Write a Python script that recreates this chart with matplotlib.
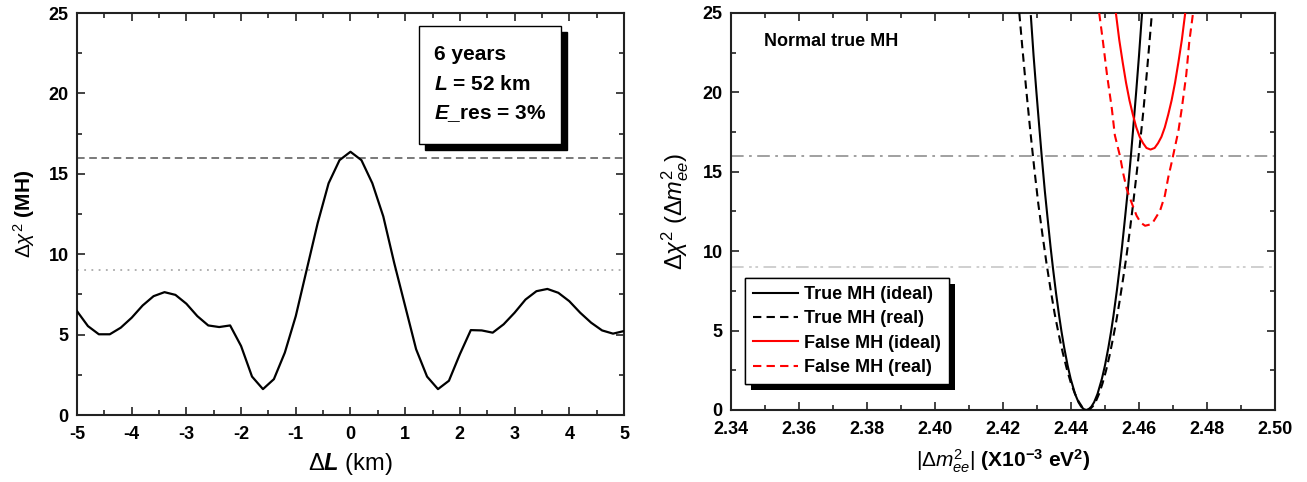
import matplotlib
matplotlib.use('Agg')
import matplotlib.pyplot as plt
from matplotlib.patches import Rectangle
from matplotlib.ticker import MultipleLocator, FormatStrFormatter
import matplotlib.patheffects as pe

plt.rcParams['font.family'] = ['Liberation Sans', 'DejaVu Sans']
plt.rcParams['mathtext.fontset'] = 'custom'
plt.rcParams['mathtext.rm'] = 'Liberation Sans'
plt.rcParams['mathtext.it'] = 'Liberation Sans:italic'
plt.rcParams['mathtext.bf'] = 'Liberation Sans:bold'
plt.rcParams['mathtext.bfit'] = 'Liberation Sans:bold:italic'
plt.rcParams['axes.unicode_minus'] = False

# left panel: chi2 vs baseline difference
dL = [-5.0, -4.8, -4.6, -4.4, -4.2, -4.0, -3.8, -3.6, -3.4, -3.2, -3.0, -2.8, -2.6,
      -2.4, -2.2, -2.0, -1.8, -1.6, -1.4, -1.2, -1.0, -0.8, -0.6, -0.4, -0.2, 0.0,
      0.2, 0.4, 0.6, 0.8, 1.0, 1.2, 1.4, 1.6, 1.8, 2.0, 2.2, 2.4, 2.6, 2.8, 3.0,
      3.2, 3.4, 3.6, 3.8, 4.0, 4.2, 4.4, 4.6, 4.8, 5.0]
chi2_mh = [6.46, 5.53, 5.02, 5.02, 5.43, 6.05, 6.81, 7.39, 7.64, 7.47, 6.92, 6.15, 5.57,
           5.47, 5.57, 4.29, 2.39, 1.61, 2.23, 3.88, 6.15, 9.04, 11.93, 14.41, 15.85, 16.37,
           15.85, 14.41, 12.35, 9.45, 6.77, 4.09, 2.39, 1.61, 2.13, 3.78, 5.28, 5.26, 5.12,
           5.64, 6.36, 7.18, 7.70, 7.84, 7.60, 7.08, 6.36, 5.74, 5.26, 5.06, 5.22]

# right panel: chi2 vs |dm2_ee|
true_ideal_x = [2.4282, 2.4290, 2.4298, 2.4306, 2.4314, 2.4323, 2.4332, 2.4340, 2.4347,
                2.4356, 2.4365, 2.4372, 2.4380, 2.4390, 2.4399, 2.4412, 2.4422, 2.4430,
                2.4438, 2.4445, 2.4452, 2.4460, 2.4468, 2.4478, 2.4491, 2.4500, 2.4510,
                2.4518, 2.4525, 2.4535, 2.4543, 2.4550, 2.4558, 2.4567, 2.4576, 2.4584,
                2.4592, 2.4600, 2.4609]
true_ideal_y = [24.8, 22.3, 20.1, 18.0, 15.95, 13.8, 11.9, 10.25, 8.93,
                7.36, 5.95, 4.95, 3.93, 2.81, 1.97, 1.01, 0.49, 0.21,
                0.05, 0.0, 0.05, 0.21, 0.49, 1.01, 1.97, 2.81, 3.93,
                4.95, 5.95, 7.53, 8.93, 10.25, 11.9, 13.8, 15.95, 18.0,
                20.1, 22.3, 25.0]

true_real_x = [2.4248, 2.4256, 2.4268, 2.4280, 2.4292, 2.4304, 2.4316, 2.4328, 2.4340,
               2.4352, 2.4364, 2.4376, 2.4388, 2.4400, 2.4411, 2.4422, 2.4432, 2.4440,
               2.4448, 2.4456, 2.4464, 2.4473, 2.4483, 2.4493, 2.4503, 2.4513, 2.4523,
               2.4533, 2.4543, 2.4553, 2.4563, 2.4573, 2.4583, 2.4593, 2.4603, 2.4613,
               2.4623, 2.4633, 2.4640]
true_real_y = [25.0, 23.04, 20.25, 17.64, 15.21, 12.96, 11.05, 9.23, 7.59,
               6.06, 4.76, 3.59, 2.56, 1.68, 1.06, 0.55, 0.22, 0.06,
               0.0, 0.06, 0.23, 0.54, 1.04, 1.69, 2.47, 3.39, 4.44,
               5.57, 6.85, 8.23, 9.66, 11.29, 13.03, 14.87, 16.8, 18.85,
               21.2, 23.7, 25.5]

false_ideal_x = [2.4532, 2.4542, 2.4552, 2.4562, 2.4572, 2.4582, 2.4592, 2.4602, 2.4612,
                 2.4622, 2.4634, 2.4646, 2.4656, 2.4666, 2.4676, 2.4686, 2.4696, 2.4706,
                 2.4716, 2.4726, 2.4736]
false_ideal_y = [25.0, 23.3, 21.9, 20.6, 19.5, 18.6, 17.8, 17.2, 16.8,
                 16.5, 16.4, 16.5, 16.8, 17.2, 17.8, 18.6, 19.5, 20.6,
                 21.9, 23.3, 25.0]

false_real_x = [2.4483, 2.4494, 2.4506, 2.4520, 2.4529, 2.4544, 2.4554, 2.4564, 2.4578,
                2.4593, 2.4605, 2.4618, 2.4638, 2.4662, 2.4676, 2.4686, 2.4696, 2.4716,
                2.4726, 2.4739, 2.4748, 2.4759]
false_real_y = [25.0, 23.2, 21.1, 19.0, 17.3, 16.0, 14.86, 13.91, 13.07,
                12.23, 11.8, 11.6, 11.71, 12.55, 13.49, 14.64, 15.58, 17.58,
                19.0, 21.1, 23.2, 25.0]

fig = plt.figure(figsize=(13.07, 4.82), dpi=100)
ax1 = fig.add_axes([0.0589, 0.139, 0.4185, 0.834])
ax2 = fig.add_axes([0.5593, 0.1494, 0.4162, 0.8237])

def style(ax):
    for s in ax.spines.values():
        s.set_linewidth(1.5)
        s.set_color('#222222')
    ax.tick_params(which='both', direction='in', top=True, right=True,
                   width=1.2, color='#222222', labelsize=13)
    ax.tick_params(which='major', length=6)
    ax.tick_params(which='minor', length=3.5)
    ax.tick_params(axis='x', which='major', pad=8)
    ax.tick_params(axis='y', which='major', pad=6)
    for lab in ax.get_xticklabels() + ax.get_yticklabels():
        lab.set_fontweight('bold')

# left
ax1.axhline(16, color='#555555', lw=1.1, linestyle=(0, (5, 3)), zorder=1)
ax1.axhline(9, color='#aaaaaa', lw=1.3, linestyle=(0, (1, 3)), zorder=1)
ax1.plot(dL, chi2_mh, color='black', lw=1.6, zorder=3)
ax1.set_xlim(-5, 5)
ax1.set_ylim(0, 25)
ax1.xaxis.set_major_locator(MultipleLocator(1))
ax1.xaxis.set_minor_locator(MultipleLocator(0.5))
ax1.yaxis.set_major_locator(MultipleLocator(5))
ax1.yaxis.set_minor_locator(MultipleLocator(2.5))
style(ax1)
ax1.set_xlabel(r'$\Delta\mathbfit{L}$ (km)', fontsize=17, labelpad=6)
ax1.set_ylabel(r'$\Delta\chi^{2}$ $\mathbf{(MH)}$', fontsize=15, labelpad=8)

bx, by, bw, bh = 0.625, 0.674, 0.2596, 0.2935
ax1.add_patch(Rectangle((bx + 0.011, by - 0.0149), bw, bh, transform=ax1.transAxes,
                        facecolor='black', edgecolor='black', zorder=4))
ax1.add_patch(Rectangle((bx, by), bw, bh, transform=ax1.transAxes,
                        facecolor='white', edgecolor='black', lw=1, zorder=5))
info = ['6 years', r'$\mathbfit{L}$ = 52 km', r'$\mathbfit{E}$_res = 3%']
for txt, yy in zip(info, [0.897, 0.8234, 0.7487]):
    ax1.text(0.6526, yy, txt, transform=ax1.transAxes, fontsize=15,
             fontweight='bold', va='center', ha='left', zorder=6)

# right
ax2.axhline(16, color='#999999', lw=1.3, linestyle=(0, (7, 3, 1.5, 3)), zorder=1)
ax2.axhline(9, color='#cccccc', lw=1.3, linestyle=(0, (7, 3, 1.5, 2, 1.5, 3)), zorder=1)
dash = (0, (4, 2.5))
ax2.plot(true_ideal_x, true_ideal_y, color='black', lw=1.5, label='True MH (ideal)', zorder=3)
ax2.plot(true_real_x, true_real_y, color='black', lw=1.5, linestyle=dash,
         label='True MH (real)', zorder=3)
ax2.plot(false_ideal_x, false_ideal_y, color='red', lw=1.5, label='False MH (ideal)', zorder=3)
ax2.plot(false_real_x, false_real_y, color='red', lw=1.5, linestyle=dash,
         label='False MH (real)', zorder=3)
ax2.set_xlim(2.34, 2.50)
ax2.set_ylim(0, 25)
ax2.xaxis.set_major_locator(MultipleLocator(0.02))
ax2.xaxis.set_minor_locator(MultipleLocator(0.01))
ax2.yaxis.set_major_locator(MultipleLocator(5))
ax2.yaxis.set_minor_locator(MultipleLocator(2.5))
ax2.xaxis.set_major_formatter(FormatStrFormatter('%.2f'))
style(ax2)
ax2.set_xlabel(r'$|\Delta m^{2}_{ee}|$ $\mathbf{(X10^{-3}\ eV^{2})}$', fontsize=15, labelpad=7)
ax2.set_ylabel(r'$\Delta\chi^{2}$ $(\Delta m^{2}_{ee})$', fontsize=17, labelpad=8)
ax2.text(0.0607, 0.927, 'Normal true MH', transform=ax2.transAxes, fontsize=13,
         fontweight='bold', va='center', ha='left')

leg = ax2.legend(loc='lower left', bbox_to_anchor=(0.0257, 0.0655), borderaxespad=0,
                 fancybox=False, framealpha=1, edgecolor='black',
                 prop={'weight': 'bold', 'size': 13}, handlelength=2.5,
                 handletextpad=0.3, labelspacing=0.4, borderpad=0.45)
leg.get_frame().set_linewidth(1)
leg.get_frame().set_path_effects([
    pe.withSimplePatchShadow(offset=(4.3, -4.3), shadow_rgbFace='black', alpha=1.0),
    pe.Normal()])

fig.savefig('out.png', dpi=100)
